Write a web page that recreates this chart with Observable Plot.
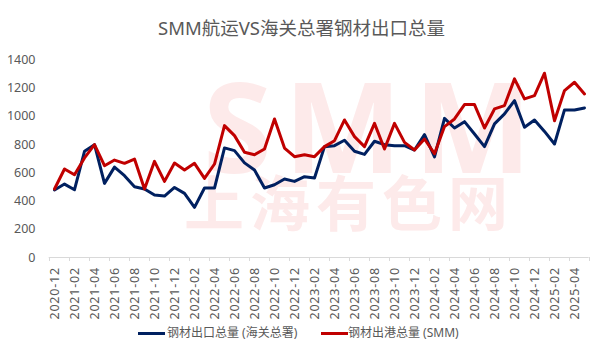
<!DOCTYPE html>
<html><head><meta charset="utf-8">
<script src="https://cdn.jsdelivr.net/npm/d3@7"></script>
<script src="https://cdn.jsdelivr.net/npm/@observablehq/plot@0.6"></script>
<style>
body{margin:0;background:#fff;font-family:"Noto Sans","Noto Sans CJK SC",sans-serif;}
#wrap{position:relative;width:603px;height:355px;overflow:hidden;background:#fff;}
#wm1{position:absolute;left:203px;top:78px;font:bold 125px/0.75 "Noto Sans",sans-serif;color:#fdeaea;letter-spacing:12px;white-space:nowrap;}
#wm2{position:absolute;left:184px;top:176px;font:bold 60px/0.8 "Noto Sans CJK SC",sans-serif;color:#fdeaea;letter-spacing:6px;white-space:nowrap;}
#title{position:absolute;left:0;width:603px;top:17px;text-align:center;font-size:18.5px;line-height:22px;color:#595959;font-family:"Noto Sans","Noto Sans CJK SC",sans-serif;}
#chart{position:absolute;left:0;top:0;}
#legend{position:absolute;left:0;top:324px;width:603px;height:18px;font-size:12px;color:#595959;}
.li{position:absolute;top:0;height:18px;line-height:18px;white-space:nowrap;}
.sw{position:absolute;top:7.5px;width:27px;height:3px;}
svg g[aria-label="x-axis tick label"] text{letter-spacing:0.8px;}
</style></head><body>
<div id="wrap">
  <div id="wm1">SMM</div>
  <div id="wm2">上海有色网</div>
  <div id="chart"></div>
  <div id="title">SMM航运VS海关总署钢材出口总量</div>
  <div id="legend"></div>
</div>
<script>
const months = ["2020-12","2021-01","2021-02","2021-03","2021-04","2021-05","2021-06","2021-07","2021-08","2021-09","2021-10","2021-11","2021-12",
"2022-01","2022-02","2022-03","2022-04","2022-05","2022-06","2022-07","2022-08","2022-09","2022-10","2022-11","2022-12",
"2023-01","2023-02","2023-03","2023-04","2023-05","2023-06","2023-07","2023-08","2023-09","2023-10","2023-11","2023-12",
"2024-01","2024-02","2024-03","2024-04","2024-05","2024-06","2024-07","2024-08","2024-09","2024-10","2024-11","2024-12",
"2025-01","2025-02","2025-03","2025-04","2025-05"];
const customs = [478,520,480,752,799,525,640,579,501,485,442,435,496,
454,355,492,492,776,757,670,619,492,515,556,539,
572,563,785,792,830,752,730,823,799,792,792,761,
870,712,985,917,962,875,785,946,1017,1111,922,974,
893,804,1045,1045,1059];
const smm = [485,627,586,705,799,650,690,667,697,485,681,539,669,
619,667,560,662,934,863,745,728,768,981,775,714,
728,714,785,827,974,856,785,950,768,950,815,761,
839,735,927,981,1083,1083,917,1052,1076,1265,1123,1146,
1305,969,1182,1241,1158];
const seriesNames = ["钢材出口总量 (海关总署)","钢材出港总量 (SMM)"];
const seriesColors = ["#002060","#C00000"];
const yTicks = [0,200,400,600,800,1000,1200,1400];
const labelMonths = months.filter((d,i)=>i%2===0);

const rows = [];
months.forEach((m,i)=>{ rows.push({month:m, value:customs[i], series:seriesNames[0]}); });
months.forEach((m,i)=>{ rows.push({month:m, value:smm[i], series:seriesNames[1]}); });

const chart = Plot.plot({
  width:603, height:355,
  marginLeft:48.7, marginRight:14.3, marginTop:59.3, marginBottom:98,
  style:{background:"transparent", fontFamily:'"Noto Sans","Noto Sans CJK SC",sans-serif', fontSize:"12.5px", color:"#595959", overflow:"visible"},
  x:{type:"point", domain:months, padding:0.5, label:null},
  y:{domain:[0,1400], label:null},
  color:{domain:seriesNames, range:seriesColors},
  marks:[
    Plot.ruleY([0],{stroke:"#d9d9d9", strokeWidth:1}),
    Plot.axisY({ticks:yTicks, tickSize:0, tickPadding:13.7, tickFormat:d=>String(d), fill:"#595959", fontSize:12.5}),
    Plot.axisX({ticks:labelMonths, tickSize:4, dx:-5, tickFormat:()=>"", stroke:"#d9d9d9"}),
    Plot.axisX({ticks:[months[months.length-1]], tickSize:4, dx:5, tickFormat:()=>"", stroke:"#d9d9d9"}),
    Plot.axisX({ticks:labelMonths, tickSize:0, tickPadding:9.5, tickRotate:-90, fill:"#595959", fontSize:12.5}),
    Plot.line(rows,{x:"month", y:"value", stroke:"series", z:"series", strokeWidth:3, strokeLinejoin:"round", strokeLinecap:"round"})
  ]
});
document.getElementById("chart").appendChild(chart);

const legend = document.getElementById("legend");
const legendPos = [[138,167],[321,348]];
seriesNames.forEach((n,i)=>{
  const sw = document.createElement("div"); sw.className="sw";
  sw.style.left = legendPos[i][0]+"px"; sw.style.background = seriesColors[i];
  legend.appendChild(sw);
  const t = document.createElement("div"); t.className="li";
  t.style.left = legendPos[i][1]+"px"; t.textContent = n;
  legend.appendChild(t);
});
</script>
</body></html>
